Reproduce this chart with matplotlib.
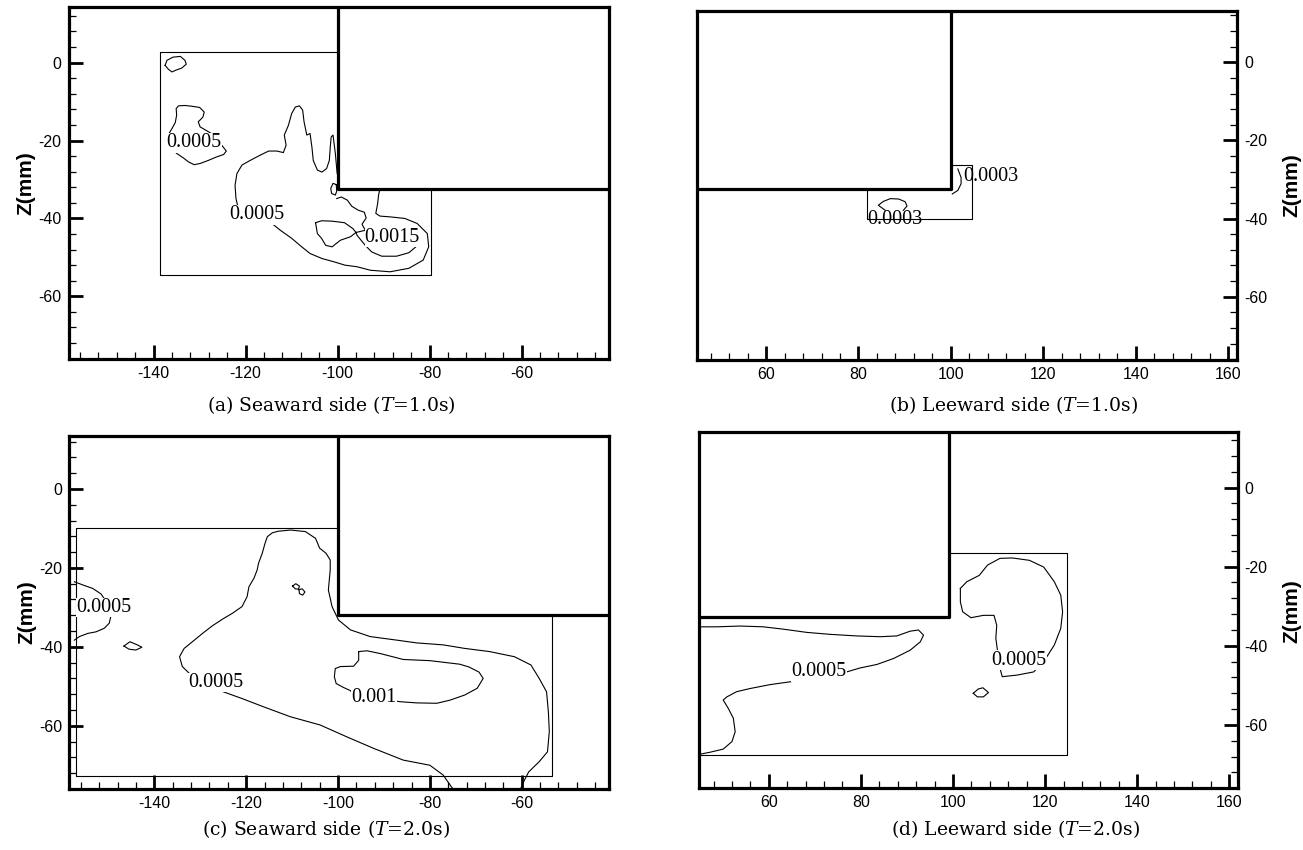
import matplotlib
matplotlib.use("Agg")
import matplotlib.pyplot as plt
from matplotlib.ticker import MultipleLocator

plt.rcParams["axes.unicode_minus"] = False
plt.rcParams["mathtext.fontset"] = "custom"
plt.rcParams["mathtext.rm"] = "DejaVu Serif"
plt.rcParams["mathtext.it"] = "DejaVu Serif:italic"

# ---- panel (a): seaward side, T=1.0s ----
a_struct = (-100.0, -32.4)          # corner of the structure (x, z)
a_domain_x = [-100.0, -138.7, -138.7, -79.8, -79.8]
a_domain_z = [2.6, 2.6, -54.5, -54.5, -32.4]

a_small_x = [-137.5, -137.1, -135.8, -134.2, -133.2, -132.9, -133.9, -135.3, -136.0, -136.8, -137.5]
a_small_z = [-0.7, 0.6, 1.4, 1.6, 0.6, -0.4, -1.4, -2.0, -2.4, -1.7, -0.7]

a_left_x = [-137.1, -136.0, -135.3, -135.0, -135.1, -134.6, -133.2, -131.7, -130.0, -129.0,
            -129.3, -130.3, -129.9, -128.3, -126.6, -125.9, -125.2, -124.2, -124.8, -126.3,
            -128.1, -129.9, -131.2, -132.4, -133.5, -135.0, -136.0, -136.8, -137.1]
a_left_z = [-19.1, -16.9, -15.4, -13.5, -11.8, -11.1, -11.0, -11.2, -11.5, -12.7,
            -14.0, -15.2, -16.5, -17.6, -18.8, -19.9, -21.2, -22.7, -23.6, -24.2,
            -25.1, -25.9, -26.2, -25.5, -24.5, -23.3, -22.2, -21.2, -19.1]

a_outer_x = [-100.1, -100.5, -101.0, -101.4, -101.6, -101.8, -102.4, -103.4, -104.4, -105.3,
             -105.6, -106.0, -106.7, -107.3, -107.6, -108.3, -109.2, -110.0, -110.7, -111.6,
             -111.2, -111.8, -113.2, -115.0, -116.9, -119.0, -120.8, -121.9, -122.3, -122.1,
             -121.6, -117.6, -114.7, -112.5, -110.0, -107.8, -106.0, -103.4, -100.9, -98.4,
             -95.8, -92.9, -88.6, -84.5, -81.4, -80.2, -80.5, -82.7, -85.4, -88.6,
             -90.8, -91.7, -91.3, -91.1, -90.8]
a_outer_z = [-28.5, -23.3, -18.6, -19.1, -21.6, -25.1, -27.2, -28.1, -27.6, -25.1,
             -21.6, -18.2, -18.6, -15.2, -12.2, -11.1, -11.4, -13.1, -16.1, -18.6,
             -21.2, -23.1, -22.7, -22.7, -23.8, -25.1, -26.3, -28.5, -31.5, -34.9,
             -37.4, -39.2, -40.9, -43.0, -45.1, -47.3, -49.0, -50.3, -51.1, -52.0,
             -52.4, -53.3, -53.7, -52.8, -50.7, -47.3, -43.9, -41.3, -40.0, -39.6,
             -39.4, -38.7, -36.2, -34.0, -32.4]

a_corner_x = [-100.3, -101.0, -101.5, -101.3, -100.5, -100.2, -100.3]
a_corner_z = [-31.3, -31.0, -32.3, -33.6, -34.0, -33.0, -31.3]

a_branch_x = [-100.2, -99.2, -97.9, -96.9, -95.5, -94.2, -93.8, -94.7, -94.0, -92.9]
a_branch_z = [-34.9, -34.5, -35.3, -36.9, -37.9, -38.4, -39.9, -41.5, -43.0, -44.0]

a_lobe_x = [-104.8, -103.5, -101.2, -98.5, -96.7, -96.0, -97.2, -99.4, -101.2, -102.6,
            -103.5, -104.4, -104.8]
a_lobe_z = [-41.1, -40.6, -40.7, -41.1, -42.6, -43.6, -44.7, -45.6, -47.3, -46.9,
            -45.1, -43.9, -41.1]

a_core_x = [-96.0, -93.1, -90.4, -87.7, -85.0, -83.2, -83.0, -84.5, -87.2, -90.4,
            -92.6, -94.0, -94.9, -95.8, -96.0]
a_core_z = [-43.6, -42.8, -42.6, -43.0, -43.9, -45.6, -47.3, -48.8, -49.7, -49.7,
            -48.6, -46.9, -45.6, -44.3, -43.6]

a_labels = [("0.0005", -131.2, -20.6), ("0.0005", -117.5, -39.1), ("0.0015", -88.1, -44.9)]

# ---- panel (b): leeward side, T=1.0s ----
b_struct = (100.0, -32.4)
b_domain_x = [100.0, 104.5, 104.5, 81.8, 81.8]
b_domain_z = [-26.3, -26.3, -40.0, -40.0, -32.4]

b_arc_x = [85.8, 84.3, 85.4, 86.9, 88.7, 90.1, 90.5, 89.7]
b_arc_z = [-37.9, -36.6, -35.6, -34.9, -35.0, -35.7, -36.8, -37.9]

b_wall_x = [101.5, 102.2, 102.2, 101.5, 100.3]
b_wall_z = [-27.3, -29.5, -31.1, -32.8, -33.7]

b_labels = [("0.0003", 108.6, -29.2), ("0.0003", 87.8, -40.2)]

# ---- panel (c): seaward side, T=2.0s ----
c_struct = (-100.0, -32.0)
c_domain_x = [-100.0, -157.1, -157.1, -53.4, -53.4]
c_domain_z = [-9.8, -9.8, -72.7, -72.7, -32.0]

c_left_x = [-157.4, -155.6, -153.4, -151.6, -150.7, -149.4, -149.8, -150.9, -152.7, -154.5,
            -156.3, -157.4]
c_left_z = [-23.5, -24.3, -25.2, -26.6, -28.1, -31.9, -34.0, -35.3, -36.2, -36.6,
            -37.4, -38.3]

c_dot_x = [-146.6, -145.3, -143.7, -142.7, -144.0, -145.5, -146.6]
c_dot_z = [-39.8, -38.7, -39.5, -40.1, -40.8, -40.6, -39.8]

c_eight1_x = [-109.9, -109.2, -108.4, -108.6, -109.3, -109.9]
c_eight1_z = [-24.6, -24.0, -24.6, -25.4, -25.3, -24.6]
c_eight2_x = [-108.5, -107.8, -107.2, -107.7, -108.4, -108.5]
c_eight2_z = [-25.5, -25.3, -26.1, -26.9, -26.5, -25.5]

c_outer_x = [-74.8, -75.3, -77.1, -80.0, -85.8, -92.3, -98.1, -103.9, -110.4, -116.2,
             -120.9, -125.9, -132.4, -133.9, -134.5, -133.5, -131.7, -129.5, -127.4, -124.9,
             -123.0, -120.9, -119.8, -119.4, -118.3, -117.6, -117.3, -116.5, -115.9, -115.4,
             -114.3, -113.0, -110.3, -107.1, -104.9, -104.0, -102.6, -101.7, -101.7, -102.1,
             -101.3, -99.9, -97.3, -93.0, -87.2, -82.9, -77.1, -72.4, -67.0, -61.6,
             -58.0, -56.2, -54.6, -54.2, -54.0, -54.4, -56.2, -58.5, -59.6, -60.3]
c_outer_z = [-76.2, -75.5, -72.5, -70.0, -68.7, -65.7, -62.8, -59.8, -57.7, -55.2,
             -53.1, -51.0, -46.7, -45.0, -42.5, -40.4, -38.7, -36.6, -34.7, -32.8,
             -31.5, -29.8, -27.3, -24.8, -22.6, -20.5, -18.8, -16.3, -13.8, -12.1,
             -11.1, -10.7, -10.4, -10.8, -12.5, -15.0, -16.3, -18.0, -20.5, -25.6,
             -29.8, -33.2, -35.7, -37.4, -38.3, -39.0, -39.5, -40.4, -41.2, -42.5,
             -44.6, -48.0, -51.4, -56.5, -61.5, -66.6, -69.1, -71.7, -74.2, -76.1]

c_inner_x = [-95.5, -93.7, -90.8, -85.8, -80.0, -73.5, -71.5, -69.3, -68.4, -69.7,
             -72.4, -75.6, -78.5, -82.9, -86.5, -96.5, -97.3, -98.8, -100.4, -100.8,
             -100.6, -99.5, -96.6, -95.5, -95.5]
c_inner_z = [-41.2, -41.0, -41.7, -43.2, -43.5, -44.4, -45.1, -46.4, -48.0, -50.5,
             -52.2, -53.5, -54.3, -54.2, -53.9, -52.2, -51.1, -50.3, -49.3, -47.6,
             -45.5, -45.0, -44.9, -43.4, -41.2]

c_labels = [("0.0005", -151.0, -30.0), ("0.0005", -126.7, -49.1), ("0.001", -92.1, -52.8)]

# ---- panel (d): leeward side, T=2.0s ----
d_struct = (99.2, -32.6)
d_domain_x = [99.2, 124.7, 124.7, 44.8]
d_domain_z = [-16.5, -16.5, -67.6, -67.6]

d_tongue_x = [45.0, 48.7, 53.8, 58.8, 63.2, 68.2, 73.3, 79.1, 84.2, 87.8,
              90.7, 92.5, 93.6, 92.9, 90.7, 87.1, 83.5, 79.8, 76.9, 70.9,
              64.6, 60.3, 55.9, 53.0, 50.9, 50.1, 51.2, 52.3, 52.7, 52.0,
              50.1, 47.2, 45.0]
d_tongue_z = [-35.2, -35.2, -35.0, -35.2, -35.8, -36.6, -37.1, -37.5, -37.7, -37.5,
              -36.3, -36.0, -37.3, -39.0, -41.1, -43.2, -44.7, -45.6, -46.6, -47.8,
              -49.1, -49.8, -50.8, -51.6, -52.9, -53.7, -55.8, -58.3, -61.7, -64.2,
              -66.1, -66.9, -67.4]

d_kidney_x = [101.6, 103.0, 105.7, 107.5, 110.2, 112.9, 116.6, 119.7, 122.0, 123.4,
              123.8, 123.4, 122.0, 119.7, 117.5, 113.9, 110.7, 110.2, 109.8, 109.3,
              109.5, 108.9, 106.6, 103.9, 102.1, 101.6, 101.6]
d_kidney_z = [-25.5, -23.8, -22.2, -19.6, -17.9, -17.8, -18.4, -20.1, -23.8, -27.2,
              -31.4, -35.6, -39.8, -44.0, -46.6, -47.4, -47.8, -45.7, -42.4, -38.1,
              -34.8, -32.3, -32.3, -32.9, -31.4, -28.9, -25.5]

d_dot_x = [104.4, 105.5, 106.5, 107.7, 106.6, 105.3, 104.4]
d_dot_z = [-52.0, -50.9, -50.6, -51.8, -52.9, -52.9, -52.0]

d_labels = [("0.0005", 70.9, -46.6), ("0.0005", 114.3, -43.6)]

captions = ["(a) Seaward side ($\\mathit{T}$=1.0s)", "(b) Leeward side ($\\mathit{T}$=1.0s)",
            "(c) Seaward side ($\\mathit{T}$=2.0s)", "(d) Leeward side ($\\mathit{T}$=2.0s)"]

THIN = 0.8
THICK = 2.3


def style_axes(ax, side, xlim, ylim):
    ax.set_xlim(*xlim)
    ax.set_ylim(*ylim)
    ax.xaxis.set_major_locator(MultipleLocator(20))
    ax.xaxis.set_minor_locator(MultipleLocator(4))
    ax.yaxis.set_major_locator(MultipleLocator(20))
    ax.yaxis.set_minor_locator(MultipleLocator(4))
    ax.tick_params(which="both", direction="in", top=False, bottom=True,
                   left=(side == "left"), right=(side == "right"),
                   labelleft=(side == "left"), labelright=(side == "right"))
    ax.tick_params(which="major", length=10, width=2.0, labelsize=11.5, pad=5)
    ax.tick_params(which="minor", length=5, width=0.9)
    for lab in ax.get_xticklabels() + ax.get_yticklabels():
        lab.set_family("Liberation Sans")
    for sp in ax.spines.values():
        sp.set_linewidth(THICK)


def draw_structure(ax, corner, side):
    x0, z0 = corner
    top = ax.get_ylim()[1]
    edge = ax.get_xlim()[1] if side == "left" else ax.get_xlim()[0]
    ax.plot([x0, x0, edge], [top, z0, z0], color="black", lw=THICK, solid_capstyle="butt")


def put_labels(ax, labels, box=True):
    for txt, x, z in labels:
        kw = dict(ha="center", va="center", fontsize=14.5, family="Liberation Serif", zorder=5)
        if box:
            kw["bbox"] = dict(facecolor="white", edgecolor="none", pad=0.1)
        ax.text(x, z, txt, **kw)


fig = plt.figure(figsize=(13.03, 8.5), dpi=100)

# (a)
ax = fig.add_axes([0.0526, 0.5776, 0.4148, 0.4138])
style_axes(ax, "left", (-158.5, -41.0), (-76.1, 14.2))
draw_structure(ax, a_struct, "left")
ax.plot(a_domain_x, a_domain_z, color="black", lw=THIN)
for xs, zs in [(a_small_x, a_small_z), (a_left_x, a_left_z), (a_outer_x, a_outer_z),
               (a_corner_x, a_corner_z), (a_branch_x, a_branch_z), (a_lobe_x, a_lobe_z),
               (a_core_x, a_core_z)]:
    ax.plot(xs, zs, color="black", lw=THIN)
put_labels(ax, a_labels)
ax.set_ylabel("Z(mm)", fontsize=15, fontweight="bold", family="Liberation Sans", labelpad=2)

# (b)
ax = fig.add_axes([0.5347, 0.5765, 0.4150, 0.4109])
style_axes(ax, "right", (45.0, 162.0), (-76.2, 13.2))
draw_structure(ax, b_struct, "right")
ax.plot(b_domain_x, b_domain_z, color="black", lw=THIN)
ax.plot(b_arc_x, b_arc_z, color="black", lw=THIN)
ax.plot(b_wall_x, b_wall_z, color="black", lw=THIN)
put_labels(ax, b_labels, box=False)

# (c)
ax = fig.add_axes([0.0532, 0.0714, 0.4142, 0.4160])
style_axes(ax, "left", (-158.5, -41.0), (-76.1, 13.5))
draw_structure(ax, c_struct, "left")
ax.plot(c_domain_x, c_domain_z, color="black", lw=THIN)
for xs, zs in [(c_left_x, c_left_z), (c_dot_x, c_dot_z), (c_eight1_x, c_eight1_z),
               (c_eight2_x, c_eight2_z), (c_outer_x, c_outer_z), (c_inner_x, c_inner_z)]:
    ax.plot(xs, zs, color="black", lw=THIN)
put_labels(ax, c_labels)
ax.set_ylabel("Z(mm)", fontsize=15, fontweight="bold", family="Liberation Sans", labelpad=2)

# (d)
ax = fig.add_axes([0.5363, 0.0726, 0.4135, 0.4195])
style_axes(ax, "right", (44.8, 161.8), (-76.0, 14.1))
draw_structure(ax, d_struct, "right")
ax.plot(d_domain_x, d_domain_z, color="black", lw=THIN)
for xs, zs in [(d_tongue_x, d_tongue_z), (d_kidney_x, d_kidney_z), (d_dot_x, d_dot_z)]:
    ax.plot(xs, zs, color="black", lw=THIN)
put_labels(ax, d_labels)

# right-hand axis titles sit at the very edge of the page
for yc in [0.7825, 0.2815]:
    fig.text(0.9915, yc, "Z(mm)", rotation=90, ha="center", va="center",
             fontsize=15, fontweight="bold", family="Liberation Sans")

# captions under each panel
for (xc, yc), cap in zip([(0.254, 0.5235), (0.778, 0.5235), (0.250, 0.025), (0.779, 0.025)], captions):
    fig.text(xc, yc, cap, ha="center", va="center", fontsize=13.5, family="DejaVu Serif")

fig.savefig("out.png", dpi=100)
